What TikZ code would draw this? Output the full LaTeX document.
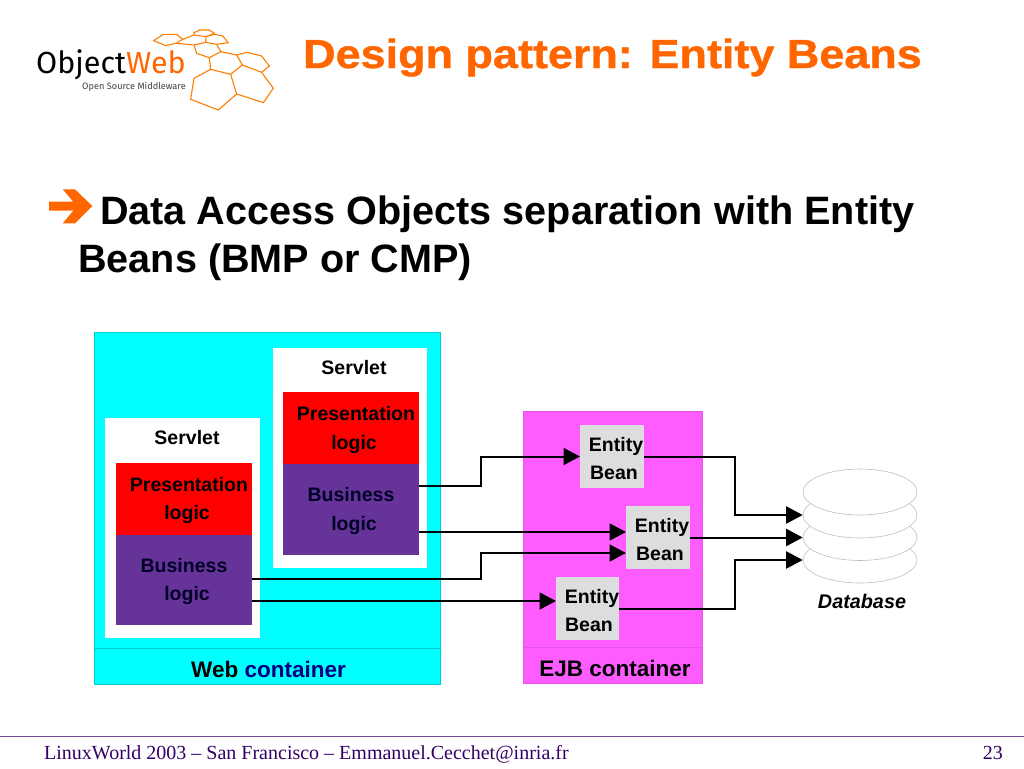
\documentclass[tikz,border=0pt]{standalone}
\usepackage{fontspec}
\setmainfont{Liberation Sans}
\newfontfamily\footfont{Liberation Serif}
\newfontfamily\logofont{Fira Sans}
\usetikzlibrary{arrows.meta,shapes.geometric}
\definecolor{titleorange}{HTML}{FF6600}
\definecolor{webcyan}{HTML}{00FFFF}
\definecolor{ejbpink}{HTML}{FF5CFF}
\definecolor{bizpurple}{HTML}{663399}
\definecolor{beangray}{HTML}{DDDDDD}
\definecolor{footpurple}{HTML}{330066}
\tikzset{
  cell/.style={rectangle,inner sep=0pt,outer sep=0pt},
  tag/.style={inner sep=0pt,anchor=base,font=\fontsize{19.5}{22}\selectfont\bfseries},
  dbdisk/.style={ellipse,draw=black!25,fill=white,line width=0.6pt,inner sep=0pt,minimum width=114pt,minimum height=46pt},
  flow/.style={line width=2pt,-{Triangle[length=16.5pt,width=17pt]}},
  hexline/.style={draw=titleorange!85!yellow,line width=1.1pt}
}
\begin{document}
\begin{tikzpicture}[x=1pt,y=-1pt,line join=miter,>=stealth]
	\useasboundingbox (0,0) rectangle (1024,768);
	\fill[white] (0,0) rectangle (1024,768);
	% logo
	\begin{scope}[shift={(0,10)},x=0.3333pt,y=-0.3333pt]
		\draw[hexline] (461,92) -- (490,73) -- (530,73) -- (548,88) -- (528,100) -- (497,107) -- cycle;
		\draw[hexline] (548,88) -- (582,75) -- (618,80) -- (617,97) -- (582,105) -- (528,100);
		\draw[hexline] (582,75) -- (582,68) -- (600,60) -- (628,60) -- (643,70) -- (618,80);
		\draw[hexline] (618,80) -- (643,73) -- (668,78) -- (685,98) -- (650,103) -- (617,97);
		\draw[hexline] (582,105) -- (590,130) -- (628,143) -- (663,125) -- (650,103);
		\draw[hexline] (628,143) -- (632,178) -- (692,193) -- (727,165) -- (710,135) -- (663,125);
		\draw[hexline] (710,135) -- (740,127) -- (785,138) -- (808,168) -- (785,187) -- (727,165);
		\draw[hexline] (785,187) -- (820,235) -- (790,278) -- (710,252) -- (692,193);
		\draw[hexline] (632,178) -- (582,205) -- (572,268) -- (655,300) -- (710,252);
	\end{scope}
	\node[inner sep=0pt,anchor=base west,font=\logofont\fontsize{30.5}{34}\selectfont] (logoname) at (36,74) {Object\textcolor{titleorange}{Web}};
	\node[inner sep=0pt,anchor=base west,font=\logofont\fontsize{9.2}{11}\selectfont,text=black!75] (logosub) at (82,89) {Open Source Middleware};
	% title and heading
	\node[inner sep=0pt,anchor=base,font=\fontsize{40.5}{48}\selectfont\bfseries\addfontfeature{FakeStretch=1.11,FakeBold=1},text=titleorange] (title) at (612.5,68) {Design pattern: Entity Beans};
	\fill[titleorange] (49,201.7) -- (73.3,201.7) -- (62.7,189.3) -- (75,189.3) -- (92.3,206) -- (75,223.3) -- (62.7,223.3) -- (73.3,210.7) -- (49,210.7) -- cycle;
	\node[inner sep=0pt,anchor=base west,font=\fontsize{39.6}{44}\selectfont\bfseries] (headone) at (100,224) {Data Access Objects separation with Entity};
	\node[inner sep=0pt,anchor=base west,font=\fontsize{39.6}{44}\selectfont\bfseries] (headtwo) at (78,272) {Beans (BMP or CMP)};
	% web container
	\node[cell,draw=black!20!webcyan,line width=0.5pt,fill=webcyan,minimum width=345.5pt,minimum height=351.5pt] (web) at (267,508) {};
	\draw[black!20!webcyan,line width=0.5pt] (web.west |- 0,648) -- (web.east |- 0,648);
	\node[cell,fill=white,minimum width=154pt,minimum height=220pt] (servletB) at (350,458) {};
	\node[cell,fill=white,minimum width=155pt,minimum height=220pt] (servletA) at (182.5,528) {};
	\node[cell,fill=red,minimum width=136pt,minimum height=72pt] (presB) at (351,428) {};
	\node[cell,fill=bizpurple,minimum width=136pt,minimum height=91pt] (bizB) at (351,509.5) {};
	\node[cell,fill=red,minimum width=136pt,minimum height=72pt] (presA) at (184,499) {};
	\node[cell,fill=bizpurple,minimum width=136pt,minimum height=90pt] (bizA) at (184,580) {};
	\node[tag] (servletBname) at (354,374) {Servlet};
	\node[tag] (presBone) at (356,420) {Presentation};
	\node[tag] (presBtwo) at (354,449) {logic};
	\node[tag,text=black!85!blue] (bizBone) at (351,501) {Business};
	\node[tag,text=black!85!blue] (bizBtwo) at (354,530) {logic};
	\node[tag] (servletAname) at (187,444) {Servlet};
	\node[tag] (presAone) at (189,491) {Presentation};
	\node[tag] (presAtwo) at (187,519) {logic};
	\node[tag,text=black!85!blue] (bizAone) at (184,572) {Business};
	\node[tag,text=black!85!blue] (bizAtwo) at (187,600) {logic};
	\node[tag,font=\fontsize{22.5}{24}\selectfont\bfseries] (webname) at (268.5,677) {Web \textcolor{blue!50!black}{container}};
	% ejb container
	\node[cell,draw=black!10!ejbpink,line width=0.5pt,fill=ejbpink,minimum width=178.5pt,minimum height=271.5pt] (ejb) at (612.5,547) {};
	\draw[black!10!ejbpink,line width=0.5pt] (ejb.west |- 0,647) -- (ejb.east |- 0,647);
	\node[tag,font=\fontsize{22.5}{24}\selectfont\bfseries] (ejbname) at (615,676) {EJB container};
	\node[cell,fill=beangray,minimum width=64pt,minimum height=63pt] (beanA) at (612,456.5) {};
	\node[cell,fill=beangray,minimum width=64pt,minimum height=63pt] (beanB) at (658,537.5) {};
	\node[cell,fill=beangray,minimum width=63pt,minimum height=63pt] (beanC) at (587.5,608.5) {};
	\node[tag] (beanAone) at (616,451) {Entity};
	\node[tag] (beanAtwo) at (614,479) {Bean};
	\node[tag] (beanBone) at (662,532) {Entity};
	\node[tag] (beanBtwo) at (660,560) {Bean};
	\node[tag] (beanCone) at (592,603) {Entity};
	\node[tag] (beanCtwo) at (589,631) {Bean};
	% database
	\node[dbdisk] (diskD) at (860,560) {};
	\node[dbdisk] (diskC) at (860,537.5) {};
	\node[dbdisk] (diskB) at (860,515) {};
	\node[dbdisk] (diskA) at (860,492) {};
	\node[tag,font=\fontsize{19.8}{22}\selectfont\bfseries\itshape] (dbname) at (862,608) {Database};
	% connectors
	\coordinate (outBtop) at (bizB.east |- 0,486);
	\coordinate (outBlow) at (bizB.east |- 0,532);
	\coordinate (outAtop) at (bizA.east |- 0,579);
	\coordinate (outAlow) at (bizA.east |- 0,601);
	\coordinate (inBtop) at (beanB.west |- 0,532);
	\coordinate (inBlow) at (beanB.west |- 0,553);
	\coordinate (inC) at (beanC.west |- 0,601);
	\draw[flow] (outBtop) -- (481,486) -- (481,456.5) -- (beanA.west);
	\draw[flow] (outBlow) -- (inBtop);
	\draw[flow] (outAtop) -- (481,579) -- (481,553) -- (inBlow);
	\draw[flow] (outAlow) -- (inC);
	\draw[flow] (beanA.east) -- (735,456.5) -- (735,515) -- (diskB.west);
	\draw[flow] (beanB.east) -- (diskC.west);
	\draw[flow] (beanC.east) -- (735,608.5) -- (735,560) -- (diskD.west);
	% footer
	\draw[footpurple!70,line width=0.7pt] (0,736) -- (1024,736);
	\node[inner sep=0pt,anchor=base west,font=\footfont\fontsize{20}{22}\selectfont,text=footpurple] (footer) at (44,759) {LinuxWorld 2003 – San Francisco – Emmanuel.Cecchet@inria.fr};
	\node[inner sep=0pt,anchor=base east,font=\footfont\fontsize{20}{22}\selectfont,text=footpurple] (pagenum) at (1003,759) {23};
\end{tikzpicture}
\end{document}
